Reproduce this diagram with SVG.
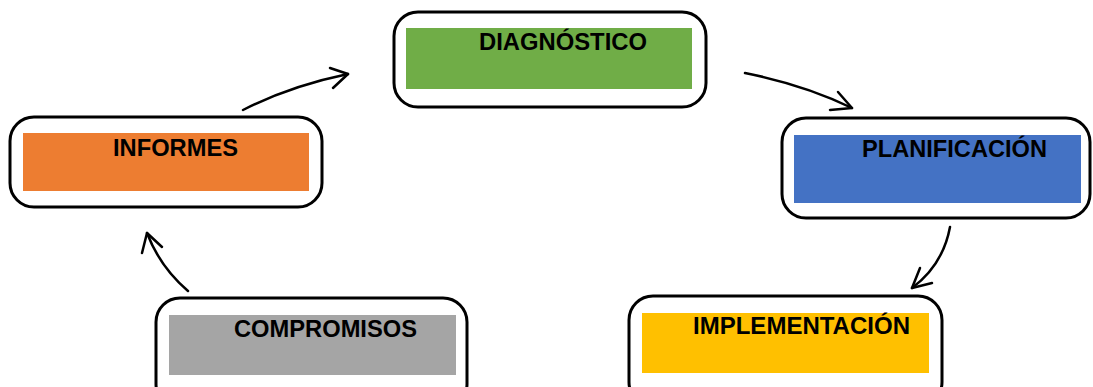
<svg xmlns="http://www.w3.org/2000/svg" width="1093" height="387" viewBox="0 0 1093 387">
<style>
.frame{fill:#fff;stroke:#000;stroke-width:3}
.lbl{font-family:"Liberation Sans",Arial,sans-serif;font-weight:bold;font-size:23px;fill:#000}
.con{fill:none;stroke:#000;stroke-width:2.5;stroke-linecap:round;stroke-linejoin:round}
</style>
<rect width="1093" height="387" fill="#fff"/>
<g id="diagnostico">
<rect class="frame" x="394" y="12" width="312" height="95" rx="24" ry="24"/>
<rect x="406" y="28" width="286" height="61" fill="#70AD47"/>
<text class="lbl" x="479" y="50" textLength="168" lengthAdjust="spacingAndGlyphs">DIAGNÓSTICO</text>
</g>
<g id="planificacion">
<rect class="frame" x="782" y="118" width="308" height="100" rx="24" ry="24"/>
<rect x="794" y="135" width="287" height="68" fill="#4472C4"/>
<text class="lbl" x="862" y="157" textLength="185" lengthAdjust="spacingAndGlyphs">PLANIFICACIÓN</text>
</g>
<g id="implementacion">
<rect class="frame" x="629" y="296" width="313" height="110" rx="24" ry="24"/>
<rect x="642" y="313" width="287" height="60" fill="#FFC000"/>
<text class="lbl" x="693" y="334" textLength="217" lengthAdjust="spacingAndGlyphs">IMPLEMENTACIÓN</text>
</g>
<g id="compromisos">
<rect class="frame" x="156" y="298" width="311" height="110" rx="24" ry="24"/>
<rect x="169" y="315" width="287" height="60" fill="#A5A5A5"/>
<text class="lbl" x="234" y="337" textLength="183" lengthAdjust="spacingAndGlyphs">COMPROMISOS</text>
</g>
<g id="informes">
<rect class="frame" x="10" y="117" width="312" height="90" rx="24" ry="24"/>
<rect x="23" y="133" width="286" height="58" fill="#ED7D31"/>
<text class="lbl" x="113" y="156" textLength="125" lengthAdjust="spacingAndGlyphs">INFORMES</text>
</g>
<g id="connectors">
<path class="con" d="M243,110 Q290,86 348,74"/>
<path class="con" d="M330,68 L348,74 L333,88"/>
<path class="con" d="M745,73 Q805,85 852,108"/>
<path class="con" d="M838,92 L852,108 L830,110"/>
<path class="con" d="M950,227 Q943,265 912,288"/>
<path class="con" d="M920,268 L912,288 L932,283"/>
<path class="con" d="M188,291 Q160,267 147,233"/>
<path class="con" d="M142,253 L147,233 L162,247"/>
</g>
</svg>
